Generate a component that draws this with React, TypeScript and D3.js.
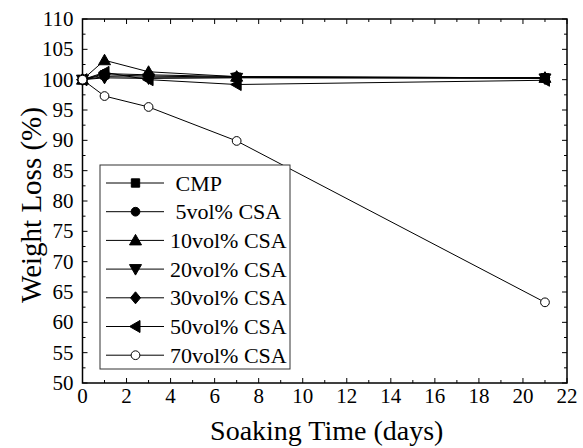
import React, { useEffect, useRef } from 'react';
import * as d3 from 'd3';

// soaking days and weight (%) per sample
const days = [0, 1, 3, 7, 21];
const seriesNames = [' CMP', ' 5vol% CSA', '10vol% CSA', '20vol% CSA', '30vol% CSA', '50vol% CSA', '70vol% CSA'];
const cmp = [100, 100.8, 100.6, 100.4, 100.3];
const csa5 = [100, 101.0, 100.8, 100.5, 100.3];
const csa10 = [100, 103.2, 101.3, 100.5, 100.3];
const csa20 = [100, 100.3, 100.2, 100.3, 100.2];
const csa30 = [100, 100.5, 100.4, 100.4, 100.3];
const csa50 = [100, 101.2, 100.0, 99.2, 99.9];
const csa70 = [100, 97.3, 95.5, 89.9, 63.3];
const markers = ['square', 'circle', 'triangle', 'triangleDown', 'diamond', 'triangleLeft', 'openCircle'];

const xTicks = d3.range(0, 23, 2);
const yTicks = d3.range(50, 111, 5);

const App = () => {
  const svgRef = useRef<SVGSVGElement>(null);

  useEffect(() => {
    const width = 583;
    const height = 448;
    const margin = { top: 19, right: 16, bottom: 65, left: 82.5 };
    const svg = d3.select(svgRef.current).attr('width', width).attr('height', height);
    svg.selectAll('*').remove();

    const pw = width - margin.left - margin.right;
    const ph = height - margin.top - margin.bottom;
    const font = '"Liberation Serif", "Times New Roman", serif';

    const x = d3.scaleLinear().domain([0, 22]).range([0, pw]);
    const y = d3.scaleLinear().domain([50, 110]).range([ph, 0]);

    const plot = svg.append('g').attr('transform', `translate(${margin.left},${margin.top})`);

    // ticks, inward on all four sides
    const tk = plot.append('g').attr('stroke', '#000').attr('stroke-width', 1);
    d3.range(0, 22.01, 1).forEach(v => {
      const len = v % 2 === 0 ? 5 : 3;
      tk.append('line').attr('x1', x(v)).attr('x2', x(v)).attr('y1', ph).attr('y2', ph - len);
      tk.append('line').attr('x1', x(v)).attr('x2', x(v)).attr('y1', 0).attr('y2', len);
    });
    d3.range(50, 110.01, 2.5).forEach(v => {
      const len = v % 5 === 0 ? 5 : 3;
      tk.append('line').attr('y1', y(v)).attr('y2', y(v)).attr('x1', 0).attr('x2', len);
      tk.append('line').attr('y1', y(v)).attr('y2', y(v)).attr('x1', pw).attr('x2', pw - len);
    });

    plot.append('rect')
      .attr('width', pw).attr('height', ph)
      .attr('fill', 'none').attr('stroke', '#000').attr('stroke-width', 1.5);

    plot.append('g').selectAll('text').data(xTicks).enter().append('text')
      .attr('x', d => x(d)).attr('y', ph + 20)
      .attr('text-anchor', 'middle')
      .attr('font-family', font).attr('font-size', 21)
      .text(d => d);

    plot.append('g').selectAll('text').data(yTicks).enter().append('text')
      .attr('x', -9).attr('y', d => y(d) + 7)
      .attr('text-anchor', 'end')
      .attr('font-family', font).attr('font-size', 21)
      .text(d => d);

    svg.append('text')
      .attr('x', margin.left + pw / 2 + 2).attr('y', 440)
      .attr('text-anchor', 'middle')
      .attr('font-family', font).attr('font-size', 28)
      .text('Soaking Time (days)');

    svg.append('text')
      .attr('transform', `translate(41, ${margin.top + ph / 2 + 4}) rotate(-90)`)
      .attr('text-anchor', 'middle')
      .attr('font-family', font).attr('font-size', 29)
      .text('Weight Loss (%)');

    const symbolFor = (m: string) => {
      if (m === 'square') return d3.symbol(d3.symbolSquare, 70)();
      if (m === 'circle' || m === 'openCircle') return d3.symbol(d3.symbolCircle, 60)();
      if (m === 'diamond') return 'M0,-6L5,0L0,6L-5,0Z';
      if (m === 'triangle') return 'M0,-6L6,4.5L-6,4.5Z';
      if (m === 'triangleDown') return 'M0,6L6,-4.5L-6,-4.5Z';
      return 'M-6,0L4.5,-6L4.5,6Z';
    };

    const allSeries = [cmp, csa5, csa10, csa20, csa30, csa50, csa70];
    const line = d3.line<number>().x((_, i) => x(days[i])).y(d => y(d));

    allSeries.forEach((vals, si) => {
      const g = plot.append('g');
      g.append('path').attr('d', line(vals)).attr('fill', 'none').attr('stroke', '#000').attr('stroke-width', 1);
      g.selectAll('path.m').data(vals).enter().append('path')
        .attr('class', 'm')
        .attr('d', symbolFor(markers[si]))
        .attr('transform', (d, i) => `translate(${x(days[i])},${y(d)})`)
        .attr('fill', markers[si] === 'openCircle' ? '#fff' : '#000')
        .attr('stroke', '#000').attr('stroke-width', 1);
    });

    // legend
    const lg = svg.append('g').attr('transform', 'translate(100,165)');
    lg.append('rect').attr('width', 190).attr('height', 204)
      .attr('fill', '#fff').attr('stroke', '#333').attr('stroke-width', 1);
    seriesNames.forEach((name, i) => {
      const ry = 18 + i * 28.7;
      lg.append('line').attr('x1', 6).attr('x2', 64).attr('y1', ry).attr('y2', ry)
        .attr('stroke', '#000').attr('stroke-width', 1);
      lg.append('path').attr('d', symbolFor(markers[i]))
        .attr('transform', `translate(35.5,${ry})`)
        .attr('fill', markers[i] === 'openCircle' ? '#fff' : '#000')
        .attr('stroke', '#000').attr('stroke-width', 1);
      lg.append('text').attr('x', 70).attr('y', ry + 7.5)
        .attr('font-family', font).attr('font-size', 22)
        .style('white-space', 'pre')
        .text(name);
    });
  }, []);

  return (
    <div style={{ position: 'absolute', left: 0, top: 0 }}>
      <svg ref={svgRef} style={{ display: 'block', background: '#fff' }}></svg>
    </div>
  );
};

export default App;
